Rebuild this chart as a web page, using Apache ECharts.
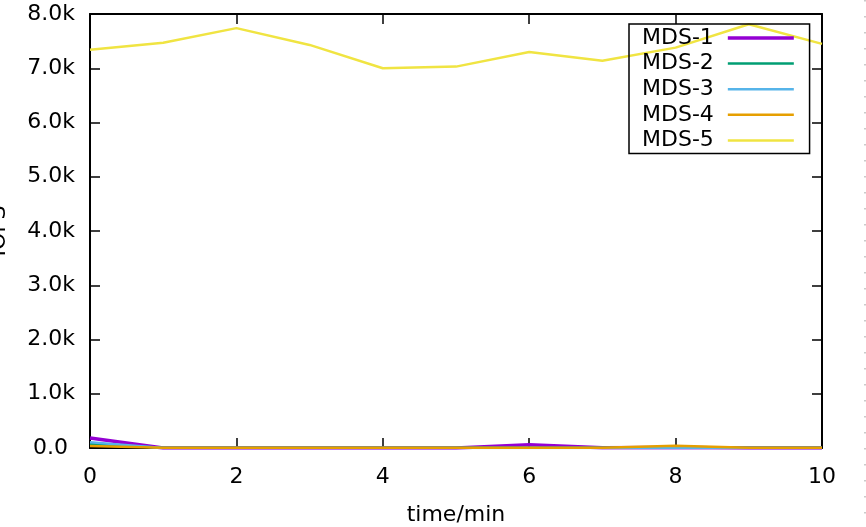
<!DOCTYPE html>
<html>
<head>
<meta charset="utf-8">
<script src="https://cdn.jsdelivr.net/npm/echarts@6/dist/echarts.min.js"></script>
<style>
  html, body { margin: 0; padding: 0; background: #fff; }
  #chart { width: 866px; height: 527px; }
</style>
</head>
<body>
<div id="chart"></div>
<script>
  // time axis (minutes)
  const minutes = [0, 1, 2, 3, 4, 5, 6, 7, 8, 9, 10]
  const xTicks = [0, 2, 4, 6, 8, 10]
  const yTicks = [0, 1000, 2000, 3000, 4000, 5000, 6000, 7000, 8000]

  // IOPS per MDS
  const mds1 = [185, 0, 0, 0, 0, 0, 60, 5, 10, 0, 0]
  const mds2 = [75, 5, 5, 5, 5, 5, 5, 5, 5, 5, 5]
  const mds3 = [105, 0, 0, 0, 0, 0, 0, 0, 0, 0, 0]
  const mds4 = [35, 5, 5, 5, 5, 5, 5, 5, 40, 5, 5]
  const mds5 = [7340, 7470, 7740, 7430, 7000, 7030, 7300, 7140, 7380, 7810, 7450]

  const names = ['MDS-1', 'MDS-2', 'MDS-3', 'MDS-4', 'MDS-5']
  const colors = ['#9400d3', '#009e73', '#56b4e9', '#e69f00', '#f0e442']
  const widths = [3.5, 2.5, 2.5, 2.5, 2.5]

  const font = 'DejaVu Sans'
  const fontSize = 22
  const textColor = '#000'

  function pairs(arr) {
    return arr.map((v, i) => [minutes[i], v])
  }

  function yLabel(v) {
    if (v === 0) return '0.0 '
    return (v / 1000).toFixed(1) + 'k'
  }

  const chart = echarts.init(document.getElementById('chart'), null, {renderer: 'canvas'})

  const frameLine = {show: true, onZero: false, lineStyle: {color: '#000', width: 2}}
  const tickStyle = {show: true, inside: true, length: 10, lineStyle: {color: '#000', width: 1.5}}

  const option = {
    animation: false,
    backgroundColor: '#fff',
    color: colors,
    grid: {left: 90, right: 44, top: 14, bottom: 79, containLabel: false, outerBoundsMode: 'none'},
    legend: {
      data: names.map((n, i) => ({name: n, lineStyle: {color: colors[i], width: widths[i]}})),
      left: 629,
      top: 24,
      orient: 'vertical',
      align: 'right',
      itemWidth: 66,
      itemHeight: 14,
      itemGap: 3.6,
      padding: [3, 14, 2, 13],
      borderColor: '#000',
      borderWidth: 1.5,
      itemStyle: {opacity: 0},
      textStyle: {fontFamily: font, fontSize: fontSize, color: textColor, lineHeight: 22, padding: [0, 9, 0, 0]}
    },
    xAxis: [
      {
        type: 'value', min: 0, max: 10, interval: 2,
        name: 'time/min', nameLocation: 'middle', nameGap: 56,
        nameTextStyle: {fontFamily: font, fontSize: fontSize, color: textColor},
        axisLine: frameLine, axisTick: tickStyle, splitLine: {show: false},
        axisLabel: {fontFamily: font, fontSize: fontSize, color: textColor, margin: 18,
          formatter: v => xTicks.includes(v) ? String(v) : ''}
      },
      {
        type: 'value', position: 'top', min: 0, max: 10, interval: 2,
        axisLine: frameLine, axisTick: tickStyle, axisLabel: {show: false}, splitLine: {show: false}
      }
    ],
    yAxis: [
      {
        type: 'value', min: 0, max: 8000, interval: 1000,
        name: 'IOPS', nameLocation: 'middle', nameGap: 80, nameRotate: 90,
        nameTextStyle: {fontFamily: font, fontSize: fontSize, color: textColor},
        axisLine: frameLine, axisTick: tickStyle, splitLine: {show: false},
        axisLabel: {fontFamily: font, fontSize: fontSize, color: textColor, margin: 15,
          formatter: v => yTicks.includes(v) ? yLabel(v) : ''}
      },
      {
        type: 'value', position: 'right', min: 0, max: 8000, interval: 1000,
        axisLine: frameLine, axisTick: tickStyle, axisLabel: {show: false}, splitLine: {show: false}
      }
    ],
    series: [mds1, mds2, mds3, mds4, mds5].map((arr, i) => ({
      name: names[i],
      type: 'line',
      data: pairs(arr),
      symbol: 'none',
      z: 3,
      lineStyle: {color: colors[i], width: widths[i]},
      itemStyle: {color: colors[i]}
    })),
    graphic: [{
      type: 'line',
      silent: true,
      shape: {x1: 865, y1: 0, x2: 865, y2: 527},
      style: {stroke: '#bbb', lineWidth: 1.5, lineDash: [1.5, 14.5]}
    }]
  }

  chart.setOption(option)
</script>
</body>
</html>
